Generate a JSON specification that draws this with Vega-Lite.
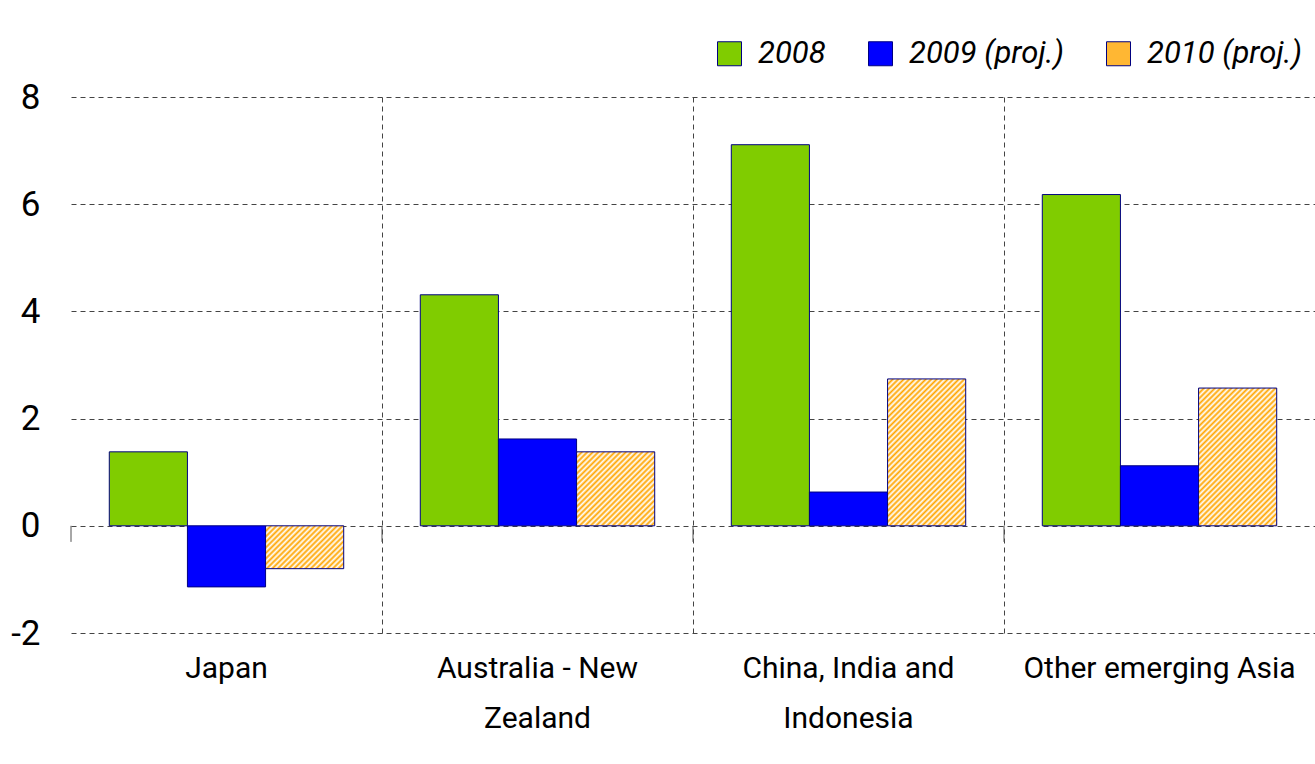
{
  "$schema": "https://vega.github.io/schema/vega-lite/v6.json",
  "autosize": {"type": "none"},
  "padding": {"left": 71, "top": 97, "right": 0, "bottom": 131},
  "width": 1244,
  "height": 536,
  "background": "white",
  "config": {"view": {"stroke": null}},
  "data": {"values": [
    {"region": "Japan", "series": "2008", "value": 1.38},
    {"region": "Japan", "series": "2009 (proj.)", "value": -1.14},
    {"region": "Japan", "series": "2010 (proj.)", "value": -0.80},
    {"region": "Australia - New Zealand", "series": "2008", "value": 4.31},
    {"region": "Australia - New Zealand", "series": "2009 (proj.)", "value": 1.62},
    {"region": "Australia - New Zealand", "series": "2010 (proj.)", "value": 1.38},
    {"region": "China, India and Indonesia", "series": "2008", "value": 7.11},
    {"region": "China, India and Indonesia", "series": "2009 (proj.)", "value": 0.63},
    {"region": "China, India and Indonesia", "series": "2010 (proj.)", "value": 2.74},
    {"region": "Other emerging Asia", "series": "2008", "value": 6.18},
    {"region": "Other emerging Asia", "series": "2009 (proj.)", "value": 1.12},
    {"region": "Other emerging Asia", "series": "2010 (proj.)", "value": 2.57}
  ]},
  "encoding": {
    "x": {
      "field": "region", "type": "nominal", "sort": null,
      "scale": {"paddingInner": 0, "paddingOuter": 0},
      "axis": {
        "title": null, "domain": false, "ticks": false,
        "grid": true, "bandPosition": 0,
        "gridDash": [5, 4], "gridColor": "#444444", "gridWidth": 1,
        "gridOpacity": {"condition": {"test": "datum.value === 'Japan'", "value": 0}, "value": 1},
        "labelAngle": 0, "labelFont": "Roboto",
        "labelFontSize": 30, "labelColor": "#000000", "labelPadding": 20, "labelLineHeight": 50,
        "labelBaseline": "top", "labelLimit": 0,
        "labelExpr": "datum.value === 'Australia - New Zealand' ? ['Australia - New', 'Zealand'] : datum.value === 'China, India and Indonesia' ? ['China, India and', 'Indonesia'] : datum.value"
      }
    },
    "y": {
      "field": "value", "type": "quantitative",
      "scale": {"domain": [-2, 8], "nice": false, "zero": false},
      "axis": {
        "title": null, "domain": false, "ticks": false, "values": [-2, 0, 2, 4, 6, 8],
        "grid": true, "gridDash": [5, 4], "gridColor": "#444444", "gridWidth": 1,
        "labelFont": "Roboto", "labelFontSize": 35, "labelColor": "#000000",
        "labelPadding": 31, "labelExpr": "'' + datum.value"
      }
    }
  },
  "layer": [
    {
      "mark": {"type": "bar", "stroke": "#000080", "strokeWidth": 1},
      "encoding": {
        "xOffset": {"field": "series", "type": "nominal", "scale": {"paddingInner": 0, "paddingOuter": 0.49}},
        "fill": {
          "field": "series", "type": "nominal",
          "scale": {"domain": ["2008", "2009 (proj.)", "2010 (proj.)"], "range": ["#80cc00", "#0000ff", "#ffb733"]},
          "legend": {
            "title": null, "orient": "none", "legendX": 643, "legendY": -59, "direction": "horizontal",
            "symbolType": "square", "symbolSize": 576, "symbolStrokeColor": "#000080", "symbolStrokeWidth": 1,
            "symbolOpacity": 1, "labelFont": "Roboto",
            "labelFontStyle": "italic", "labelFontSize": 31, "labelColor": "#000000", "labelOffset": 13,
            "columnPadding": 39, "labelLimit": 0, "padding": 0
          },
          "condition": [
            {"test": "datum.series === '2010 (proj.)' && datum.region === 'Japan'", "value": {"gradient": "linear", "x1": 0, "y1": 0, "x2": 2.705, "y2": 1.486, "stops": [
              {"offset":0,"color":"#ffa500"},{"offset":0.01,"color":"#ffffff"},{"offset":0.02,"color":"#ffa500"},{"offset":0.03,"color":"#ffffff"},{"offset":0.04,"color":"#ffa500"},{"offset":0.05,"color":"#ffffff"},{"offset":0.06,"color":"#ffa500"},{"offset":0.07,"color":"#ffffff"},{"offset":0.08,"color":"#ffa500"},{"offset":0.09,"color":"#ffffff"},{"offset":0.1,"color":"#ffa500"},{"offset":0.11,"color":"#ffffff"},{"offset":0.12,"color":"#ffa500"},{"offset":0.13,"color":"#ffffff"},{"offset":0.14,"color":"#ffa500"},{"offset":0.15,"color":"#ffffff"},{"offset":0.16,"color":"#ffa500"},{"offset":0.17,"color":"#ffffff"},{"offset":0.18,"color":"#ffa500"},{"offset":0.19,"color":"#ffffff"},{"offset":0.2,"color":"#ffa500"},{"offset":0.21,"color":"#ffffff"},{"offset":0.22,"color":"#ffa500"},{"offset":0.23,"color":"#ffffff"},{"offset":0.24,"color":"#ffa500"},{"offset":0.25,"color":"#ffffff"},{"offset":0.26,"color":"#ffa500"},{"offset":0.27,"color":"#ffffff"},{"offset":0.28,"color":"#ffa500"},{"offset":0.29,"color":"#ffffff"},{"offset":0.3,"color":"#ffa500"},{"offset":0.31,"color":"#ffffff"},{"offset":0.32,"color":"#ffa500"},{"offset":0.33,"color":"#ffffff"},{"offset":0.34,"color":"#ffa500"},{"offset":0.35,"color":"#ffffff"},{"offset":0.36,"color":"#ffa500"},{"offset":0.37,"color":"#ffffff"},{"offset":0.38,"color":"#ffa500"},{"offset":0.39,"color":"#ffffff"},{"offset":0.4,"color":"#ffa500"},{"offset":0.41,"color":"#ffffff"},{"offset":0.42,"color":"#ffa500"},{"offset":0.43,"color":"#ffffff"},{"offset":0.44,"color":"#ffa500"},{"offset":0.45,"color":"#ffffff"},{"offset":0.46,"color":"#ffa500"}
            ]}},
            {"test": "datum.series === '2010 (proj.)' && datum.region === 'Australia - New Zealand'", "value": {"gradient": "linear", "x1": 0, "y1": 0, "x2": 1.855, "y2": 1.758, "stops": [
              {"offset":0,"color":"#ffa500"},{"offset":0.01,"color":"#ffffff"},{"offset":0.02,"color":"#ffa500"},{"offset":0.03,"color":"#ffffff"},{"offset":0.04,"color":"#ffa500"},{"offset":0.05,"color":"#ffffff"},{"offset":0.06,"color":"#ffa500"},{"offset":0.07,"color":"#ffffff"},{"offset":0.08,"color":"#ffa500"},{"offset":0.09,"color":"#ffffff"},{"offset":0.1,"color":"#ffa500"},{"offset":0.11,"color":"#ffffff"},{"offset":0.12,"color":"#ffa500"},{"offset":0.13,"color":"#ffffff"},{"offset":0.14,"color":"#ffa500"},{"offset":0.15,"color":"#ffffff"},{"offset":0.16,"color":"#ffa500"},{"offset":0.17,"color":"#ffffff"},{"offset":0.18,"color":"#ffa500"},{"offset":0.19,"color":"#ffffff"},{"offset":0.2,"color":"#ffa500"},{"offset":0.21,"color":"#ffffff"},{"offset":0.22,"color":"#ffa500"},{"offset":0.23,"color":"#ffffff"},{"offset":0.24,"color":"#ffa500"},{"offset":0.25,"color":"#ffffff"},{"offset":0.26,"color":"#ffa500"},{"offset":0.27,"color":"#ffffff"},{"offset":0.28,"color":"#ffa500"},{"offset":0.29,"color":"#ffffff"},{"offset":0.3,"color":"#ffa500"},{"offset":0.31,"color":"#ffffff"},{"offset":0.32,"color":"#ffa500"},{"offset":0.33,"color":"#ffffff"},{"offset":0.34,"color":"#ffa500"},{"offset":0.35,"color":"#ffffff"},{"offset":0.36,"color":"#ffa500"},{"offset":0.37,"color":"#ffffff"},{"offset":0.38,"color":"#ffa500"},{"offset":0.39,"color":"#ffffff"},{"offset":0.4,"color":"#ffa500"},{"offset":0.41,"color":"#ffffff"},{"offset":0.42,"color":"#ffa500"},{"offset":0.43,"color":"#ffffff"},{"offset":0.44,"color":"#ffa500"},{"offset":0.45,"color":"#ffffff"},{"offset":0.46,"color":"#ffa500"},{"offset":0.47,"color":"#ffffff"},{"offset":0.48,"color":"#ffa500"},{"offset":0.49,"color":"#ffffff"},{"offset":0.5,"color":"#ffa500"},{"offset":0.51,"color":"#ffffff"},{"offset":0.52,"color":"#ffa500"},{"offset":0.53,"color":"#ffffff"},{"offset":0.54,"color":"#ffa500"},{"offset":0.55,"color":"#ffffff"},{"offset":0.56,"color":"#ffa500"}
            ]}},
            {"test": "datum.series === '2010 (proj.)' && datum.region === 'China, India and Indonesia'", "value": {"gradient": "linear", "x1": 0, "y1": 0, "x2": 0.776, "y2": 1.459, "stops": [
              {"offset":0,"color":"#ffa500"},{"offset":0.01,"color":"#ffffff"},{"offset":0.02,"color":"#ffa500"},{"offset":0.03,"color":"#ffffff"},{"offset":0.04,"color":"#ffa500"},{"offset":0.05,"color":"#ffffff"},{"offset":0.06,"color":"#ffa500"},{"offset":0.07,"color":"#ffffff"},{"offset":0.08,"color":"#ffa500"},{"offset":0.09,"color":"#ffffff"},{"offset":0.1,"color":"#ffa500"},{"offset":0.11,"color":"#ffffff"},{"offset":0.12,"color":"#ffa500"},{"offset":0.13,"color":"#ffffff"},{"offset":0.14,"color":"#ffa500"},{"offset":0.15,"color":"#ffffff"},{"offset":0.16,"color":"#ffa500"},{"offset":0.17,"color":"#ffffff"},{"offset":0.18,"color":"#ffa500"},{"offset":0.19,"color":"#ffffff"},{"offset":0.2,"color":"#ffa500"},{"offset":0.21,"color":"#ffffff"},{"offset":0.22,"color":"#ffa500"},{"offset":0.23,"color":"#ffffff"},{"offset":0.24,"color":"#ffa500"},{"offset":0.25,"color":"#ffffff"},{"offset":0.26,"color":"#ffa500"},{"offset":0.27,"color":"#ffffff"},{"offset":0.28,"color":"#ffa500"},{"offset":0.29,"color":"#ffffff"},{"offset":0.3,"color":"#ffa500"},{"offset":0.31,"color":"#ffffff"},{"offset":0.32,"color":"#ffa500"},{"offset":0.33,"color":"#ffffff"},{"offset":0.34,"color":"#ffa500"},{"offset":0.35,"color":"#ffffff"},{"offset":0.36,"color":"#ffa500"},{"offset":0.37,"color":"#ffffff"},{"offset":0.38,"color":"#ffa500"},{"offset":0.39,"color":"#ffffff"},{"offset":0.4,"color":"#ffa500"},{"offset":0.41,"color":"#ffffff"},{"offset":0.42,"color":"#ffa500"},{"offset":0.43,"color":"#ffffff"},{"offset":0.44,"color":"#ffa500"},{"offset":0.45,"color":"#ffffff"},{"offset":0.46,"color":"#ffa500"},{"offset":0.47,"color":"#ffffff"},{"offset":0.48,"color":"#ffa500"},{"offset":0.49,"color":"#ffffff"},{"offset":0.5,"color":"#ffa500"},{"offset":0.51,"color":"#ffffff"},{"offset":0.52,"color":"#ffa500"},{"offset":0.53,"color":"#ffffff"},{"offset":0.54,"color":"#ffa500"},{"offset":0.55,"color":"#ffffff"},{"offset":0.56,"color":"#ffa500"},{"offset":0.57,"color":"#ffffff"},{"offset":0.58,"color":"#ffa500"},{"offset":0.59,"color":"#ffffff"},{"offset":0.6,"color":"#ffa500"},{"offset":0.61,"color":"#ffffff"},{"offset":0.62,"color":"#ffa500"},{"offset":0.63,"color":"#ffffff"},{"offset":0.64,"color":"#ffa500"},{"offset":0.65,"color":"#ffffff"},{"offset":0.66,"color":"#ffa500"},{"offset":0.67,"color":"#ffffff"},{"offset":0.68,"color":"#ffa500"},{"offset":0.69,"color":"#ffffff"},{"offset":0.7,"color":"#ffa500"},{"offset":0.71,"color":"#ffffff"},{"offset":0.72,"color":"#ffa500"},{"offset":0.73,"color":"#ffffff"},{"offset":0.74,"color":"#ffa500"},{"offset":0.75,"color":"#ffffff"},{"offset":0.76,"color":"#ffa500"},{"offset":0.77,"color":"#ffffff"},{"offset":0.78,"color":"#ffa500"},{"offset":0.79,"color":"#ffffff"},{"offset":0.8,"color":"#ffa500"},{"offset":0.81,"color":"#ffffff"},{"offset":0.82,"color":"#ffa500"}
            ]}},
            {"test": "datum.series === '2010 (proj.)' && datum.region === 'Other emerging Asia'", "value": {"gradient": "linear", "x1": 0, "y1": 0, "x2": 0.856, "y2": 1.51, "stops": [
              {"offset":0,"color":"#ffa500"},{"offset":0.01,"color":"#ffffff"},{"offset":0.02,"color":"#ffa500"},{"offset":0.03,"color":"#ffffff"},{"offset":0.04,"color":"#ffa500"},{"offset":0.05,"color":"#ffffff"},{"offset":0.06,"color":"#ffa500"},{"offset":0.07,"color":"#ffffff"},{"offset":0.08,"color":"#ffa500"},{"offset":0.09,"color":"#ffffff"},{"offset":0.1,"color":"#ffa500"},{"offset":0.11,"color":"#ffffff"},{"offset":0.12,"color":"#ffa500"},{"offset":0.13,"color":"#ffffff"},{"offset":0.14,"color":"#ffa500"},{"offset":0.15,"color":"#ffffff"},{"offset":0.16,"color":"#ffa500"},{"offset":0.17,"color":"#ffffff"},{"offset":0.18,"color":"#ffa500"},{"offset":0.19,"color":"#ffffff"},{"offset":0.2,"color":"#ffa500"},{"offset":0.21,"color":"#ffffff"},{"offset":0.22,"color":"#ffa500"},{"offset":0.23,"color":"#ffffff"},{"offset":0.24,"color":"#ffa500"},{"offset":0.25,"color":"#ffffff"},{"offset":0.26,"color":"#ffa500"},{"offset":0.27,"color":"#ffffff"},{"offset":0.28,"color":"#ffa500"},{"offset":0.29,"color":"#ffffff"},{"offset":0.3,"color":"#ffa500"},{"offset":0.31,"color":"#ffffff"},{"offset":0.32,"color":"#ffa500"},{"offset":0.33,"color":"#ffffff"},{"offset":0.34,"color":"#ffa500"},{"offset":0.35,"color":"#ffffff"},{"offset":0.36,"color":"#ffa500"},{"offset":0.37,"color":"#ffffff"},{"offset":0.38,"color":"#ffa500"},{"offset":0.39,"color":"#ffffff"},{"offset":0.4,"color":"#ffa500"},{"offset":0.41,"color":"#ffffff"},{"offset":0.42,"color":"#ffa500"},{"offset":0.43,"color":"#ffffff"},{"offset":0.44,"color":"#ffa500"},{"offset":0.45,"color":"#ffffff"},{"offset":0.46,"color":"#ffa500"},{"offset":0.47,"color":"#ffffff"},{"offset":0.48,"color":"#ffa500"},{"offset":0.49,"color":"#ffffff"},{"offset":0.5,"color":"#ffa500"},{"offset":0.51,"color":"#ffffff"},{"offset":0.52,"color":"#ffa500"},{"offset":0.53,"color":"#ffffff"},{"offset":0.54,"color":"#ffa500"},{"offset":0.55,"color":"#ffffff"},{"offset":0.56,"color":"#ffa500"},{"offset":0.57,"color":"#ffffff"},{"offset":0.58,"color":"#ffa500"},{"offset":0.59,"color":"#ffffff"},{"offset":0.6,"color":"#ffa500"},{"offset":0.61,"color":"#ffffff"},{"offset":0.62,"color":"#ffa500"},{"offset":0.63,"color":"#ffffff"},{"offset":0.64,"color":"#ffa500"},{"offset":0.65,"color":"#ffffff"},{"offset":0.66,"color":"#ffa500"},{"offset":0.67,"color":"#ffffff"},{"offset":0.68,"color":"#ffa500"},{"offset":0.69,"color":"#ffffff"},{"offset":0.7,"color":"#ffa500"},{"offset":0.71,"color":"#ffffff"},{"offset":0.72,"color":"#ffa500"},{"offset":0.73,"color":"#ffffff"},{"offset":0.74,"color":"#ffa500"},{"offset":0.75,"color":"#ffffff"},{"offset":0.76,"color":"#ffa500"},{"offset":0.77,"color":"#ffffff"},{"offset":0.78,"color":"#ffa500"},{"offset":0.79,"color":"#ffffff"},{"offset":0.8,"color":"#ffa500"}
            ]}}
          ]
        }
      }
    },
    {
      "mark": {"type": "rule", "color": "#505050", "strokeWidth": 1.2},
      "encoding": {"y": {"datum": 0}}
    },
    {
      "transform": [{"filter": "datum.series === '2008'"}],
      "mark": {"type": "rule", "color": "#505050", "strokeWidth": 1},
      "encoding": {
        "x": {"field": "region", "type": "nominal", "sort": null, "bandPosition": 0},
        "y": {"datum": 0},
        "y2": {"datum": -0.3}
      }
    }
  ]
}
